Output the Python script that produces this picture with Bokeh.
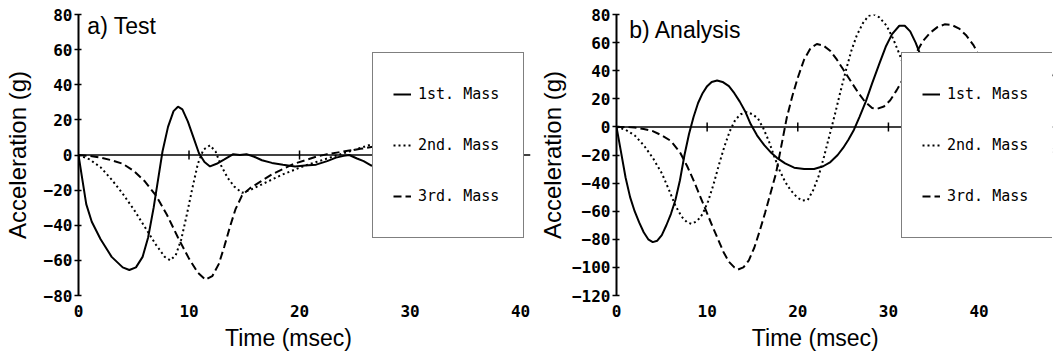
from bokeh.plotting import figure
from bokeh.models import Legend, LegendItem, Span, Label, FixedTicker, Range1d
from bokeh.layouts import row
from bokeh.embed import file_html
from bokeh.resources import INLINE

# ---------------- data ----------------
x_ticks = [0, 10, 20, 30, 40]
y_ticks_test = [-80, -60, -40, -20, 0, 20, 40, 60, 80]
y_ticks_analysis = [-120, -100, -80, -60, -40, -20, 0, 20, 40, 60, 80]
series_names = ["1st. Mass", "2nd. Mass", "3rd. Mass"]
panel_titles = ["a) Test", "b) Analysis"]
x_title = "Time (msec)"
y_title = "Acceleration (g)"

# a) Test
test_t1 = [0, 0.3, 0.7, 1.2, 2.0, 3.0, 4.0, 4.6, 5.2, 5.8, 6.3, 6.8, 7.2, 7.6, 8.1, 8.6, 9.0, 9.4,
           9.9, 10.4, 10.9, 11.4, 11.9, 12.5, 13.2, 14.0, 14.6, 15.2, 15.9, 16.6, 17.5, 18.5, 19.6,
           20.5, 21.5, 22.5, 23.3, 24.0, 24.5, 25.2, 25.8, 26.5, 27.0]
test_a1 = [0, -12, -28, -38, -48, -58, -64, -65.5, -64, -58, -47, -30, -14, 2, 16, 25, 27.5, 26,
           19, 10, 1, -4, -6.5, -5, -2.5, 0.5, 0, 0.5, -1, -3, -4.5, -5.5, -6.5,
           -6, -5.5, -3.5, -1.5, -0.5, 0, -2, -3.5, -6, -6.5]

test_t2 = [0, 1, 2, 3, 4, 5, 6, 7, 7.8, 8.3, 8.8, 9.3, 9.8, 10.3, 10.8, 11.3, 11.9, 12.4, 12.9,
           13.5, 14.1, 14.8, 15.5, 16.5, 17.5, 18.5, 19.5, 20.5, 21.5, 22.5, 23.5, 24.5, 25.5,
           26.5, 27.0]
test_a2 = [0, -2.5, -7, -14, -22, -31, -41, -51, -58, -60, -57, -48, -34, -19, -5, 3, 5.5, 2, -6,
           -13, -18, -21.5, -20, -17, -14, -11, -8.5, -6, -4, -2, 0, 2, 4,
           6, 7]

test_t3 = [0, 1, 2, 3, 4, 5, 6, 7, 8, 9, 10, 10.8, 11.5, 12.1, 12.7, 13.2, 13.7, 14.2, 14.8,
           15.5, 16.5, 17.5, 18.5, 19.5, 20.5, 21.5, 22.5, 23.5, 24.5, 25.5, 26.5, 27.0]
test_a3 = [0, -0.5, -1.5, -3, -5, -9, -15, -23, -34, -47, -59, -67, -71, -69, -62, -52, -41, -31,
           -23, -19, -15, -11, -8, -5, -3, -1, 0.5, 1.5, 2.5, 3.5, 4.5, 5]

# b) Analysis
ana_t1 = [0, 0.5, 1.0, 1.5, 2.0, 2.5, 3.0, 3.5, 4.0, 4.5, 5.0, 5.5, 6.0, 6.5, 7.0, 7.5, 8.0, 8.5,
          9.0, 9.5, 10.0, 10.5, 11.1, 11.7, 12.4, 13.0, 13.6, 14.2, 14.8, 15.5, 16.3, 17.0, 17.7,
          18.6, 19.6, 20.7, 21.8, 22.8, 23.6, 24.4, 25.0, 25.6, 26.2, 26.8, 27.5, 28.2, 29.0,
          29.7, 30.4, 31.2, 31.8, 32.4, 33.0, 33.6, 34.5, 35.5, 36.5, 37.5, 38.5, 39.5, 40.5,
          41.5, 42.5, 43.5, 44.5, 45.5, 46.3, 47.2, 48.1]
ana_a1 = [0, -18, -36, -50, -60, -68, -75, -80, -82, -81, -77, -70, -62, -52, -38, -20, -5, 7,
          17, 24, 29, 32, 33, 32, 29, 24, 18, 11, 2, -6, -13, -18, -22,
          -26, -29, -30, -30, -28, -25, -20, -15, -9, -2, 7, 18, 31, 45,
          57, 66, 72, 72, 68, 60, 50, 38, 22, 8, 0, -2, 2, 12,
          24, 35, 43, 48, 50.5, 51, 46, 36]

ana_t2 = [0, 1.0, 2.0, 3.0, 4.0, 5.0, 5.8, 6.5, 7.2, 7.8, 8.3, 8.9, 9.5, 10.1, 10.7, 11.3, 11.9,
          12.5, 13.1, 13.7, 14.4, 15.0, 15.6, 16.2, 16.8, 17.4, 18.0, 18.6, 19.2, 19.9, 20.5,
          21.1, 21.7, 22.3, 22.9, 23.5, 24.1, 24.7, 25.3, 25.9, 26.5, 27.2, 27.8, 28.4, 29.0,
          29.8, 30.5, 31.2, 32.0, 33.0, 34.0, 35.0, 36.0, 37.0, 38.0, 39.0, 40.0, 41.0, 42.0,
          43.0, 44.0, 45.0, 46.0, 47.0, 48.1]
ana_a2 = [0, -2, -6, -13, -22, -33, -45, -56, -64, -68, -69, -67, -62, -53, -41, -27, -14,
          -3, 5, 9, 10.5, 9, 6, -1, -10, -21, -31, -39, -45, -50, -52.5,
          -52, -45, -35, -21, -6, 9, 25, 40, 54, 65, 74, 79, 80, 78,
          72, 63, 52, 38, 18, -5, -25, -40, -48, -45, -32, -12, 10, 28,
          38, 40, 33, 18, 0, -18]

ana_t3 = [0, 1.0, 2.0, 3.0, 4.0, 5.0, 6.0, 7.0, 7.8, 8.5, 9.2, 9.9, 10.6, 11.2, 11.8, 12.4, 13.0,
          13.4, 14.0, 14.6, 15.2, 15.8, 16.4, 17.0, 17.6, 18.2, 18.8, 19.4, 20.0, 20.7, 21.4,
          22.1, 22.8, 23.6, 24.3, 25.0, 25.8, 26.6, 27.4, 28.2, 28.8, 29.5, 30.2, 30.9, 31.6,
          32.3, 33.0, 33.8, 34.6, 35.4, 36.2, 37.0, 37.8, 38.6, 39.4, 40.2, 41.0, 42.0, 43.0,
          44.0, 45.0, 46.0, 47.0, 48.1]
ana_a3 = [0, 0, -0.5, -1.5, -3, -6, -10, -18, -28, -38, -49, -60, -71, -80, -89, -96, -100,
          -101.5, -100, -95, -86, -74, -61, -47, -33, -13, 7, 22, 35, 48, 56,
          59, 58, 54, 48, 41, 33, 25, 18, 13.5, 13, 14.5, 19, 26, 34,
          43, 52, 61, 67, 71, 73, 72.5, 70, 65, 58, 48, 38, 28, 22,
          20, 24, 30, 34, 35]

# ---------------- styling ----------------
TICK_FONT = "DejaVu Sans Mono"
TEXT_FONT = "Liberation Sans"
dashes = ["solid", "2 3", "8 4"]
NBSP = "\u00a0"


def make_panel(width, border_left, border_right, x_end, y_start, y_end, y_ticks, series,
               title, title_xy, xlabel_pad, ylabel_standoff, legend_loc):
    p = figure(width=width, height=356, output_backend="svg", toolbar_location=None,
               x_range=Range1d(0, x_end), y_range=Range1d(y_start, y_end),
               min_border_left=border_left, min_border_right=border_right,
               min_border_top=14, min_border_bottom=61)
    p.background_fill_color = "white"
    p.border_fill_color = "white"
    p.outline_line_color = None
    p.xgrid.visible = False
    p.ygrid.visible = False

    # bottom axis: tick labels only (the axis line is the zero line)
    xa = p.xaxis[0]
    xa.ticker = FixedTicker(ticks=x_ticks)
    xa.axis_line_color = None
    xa.major_tick_line_color = None
    xa.minor_tick_line_color = None
    xa.major_tick_out = 0
    xa.major_tick_in = 0
    xa.major_label_standoff = 9
    xa.major_label_text_font = TICK_FONT
    xa.major_label_text_font_style = "bold"
    xa.major_label_text_font_size = "16px"
    xa.major_label_text_color = "black"
    xa.axis_label = x_title + NBSP * xlabel_pad
    xa.axis_label_text_font = TEXT_FONT
    xa.axis_label_text_font_style = "normal"
    xa.axis_label_text_font_size = "23px"
    xa.axis_label_text_color = "black"
    xa.axis_label_standoff = 5

    ya = p.yaxis[0]
    ya.ticker = FixedTicker(ticks=y_ticks)
    ya.axis_line_color = "black"
    ya.axis_line_width = 2
    ya.major_tick_line_color = "black"
    ya.major_tick_line_width = 1.5
    ya.minor_tick_line_color = None
    ya.major_tick_in = 3
    ya.major_tick_out = 4
    ya.major_label_standoff = 2
    ya.major_label_text_font = TICK_FONT
    ya.major_label_text_font_style = "bold"
    ya.major_label_text_font_size = "16px"
    ya.major_label_text_color = "black"
    ya.axis_label = y_title
    ya.axis_label_text_font = TEXT_FONT
    ya.axis_label_text_font_style = "normal"
    ya.axis_label_text_font_size = "24px"
    ya.axis_label_text_color = "black"
    ya.axis_label_standoff = ylabel_standoff

    # zero line with tick marks
    p.add_layout(Span(location=0, dimension="width", line_color="black", line_width=1.5))
    p.scatter(x=x_ticks[1:], y=[0] * (len(x_ticks) - 1), marker="dash", angle=1.5708,
              size=9, line_color="black", line_width=1.5)

    items = []
    for (tt, aa), name, dash in zip(series, series_names, dashes):
        r = p.line(tt, aa, line_color="black", line_width=2, line_dash=dash)
        items.append(LegendItem(label=name, renderers=[r]))

    legend = Legend(items=items, location=legend_loc, padding=20, margin=0,
                    glyph_width=18, glyph_height=42, label_height=42, label_width=85,
                    spacing=9, label_standoff=7,
                    label_text_font=TICK_FONT, label_text_font_size="15px",
                    label_text_color="black",
                    border_line_color="black", border_line_width=1.5,
                    background_fill_color="white", background_fill_alpha=1.0)
    p.add_layout(legend)

    p.add_layout(Label(x=title_xy[0], y=title_xy[1], text=title, text_font=TEXT_FONT,
                       text_font_size="23px", text_color="black",
                       text_baseline="alphabetic", text_align="left"))
    return p


p1 = make_panel(535, 78, 5, 40.9, -80, 80, y_ticks_test,
                [(test_t1, test_a1), (test_t2, test_a2), (test_t3, test_a3)],
                panel_titles[0], (0.8, 73.2), 5, 10, (294, 57))
p2 = make_panel(519, 77, 2, 48.1, -120, 80, y_ticks_analysis,
                [(ana_t1, ana_a1), (ana_t2, ana_a2), (ana_t3, ana_a3)],
                panel_titles[1], (1.4, 69.3), 6, 3, (285, 57))

layout = row(p1, p2)
open("out.html", "w").write(file_html(layout, INLINE))
